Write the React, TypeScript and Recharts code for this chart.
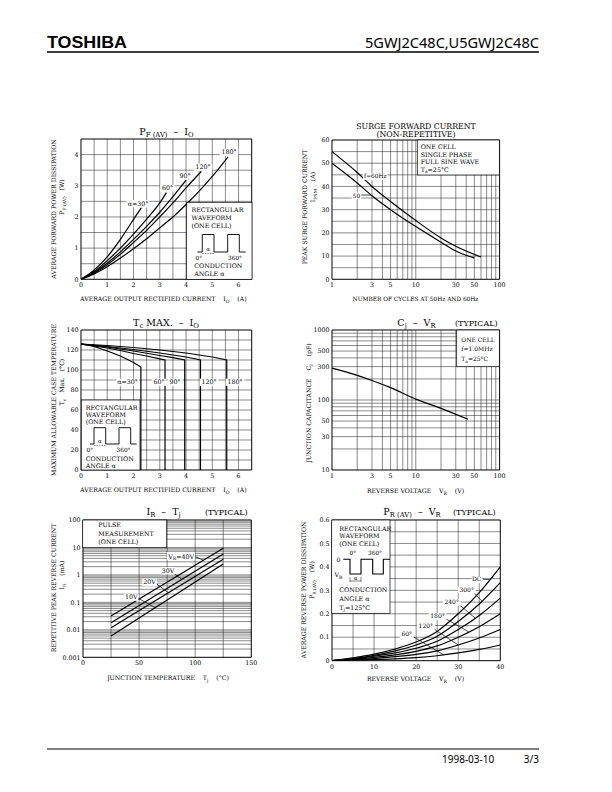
import React from 'react';
import { LineChart, Line, XAxis, YAxis, ReferenceLine } from 'recharts';

const SERIF = '"DejaVu Serif", serif';
const SANS = '"Noto Sans", "DejaVu Sans", sans-serif';

// ---------------- Chart 1: PF(AV) - IO ----------------
const pfTicksX = [0, 1, 2, 3, 4, 5, 6];
const pfTicksY = [0, 1, 2, 3, 4];
const pfGridX = [0.5, 1, 1.5, 2, 2.5, 3, 3.5, 4, 4.5, 5, 5.5, 6];
const pfGridY = [0.5, 1, 1.5, 2, 2.5, 3, 3.5, 4];
const pf30Io = [0, 0.5, 1, 1.5, 2, 2.3];
const pf30W = [0, 0.3, 0.72, 1.28, 1.92, 2.3];
const pf60Io = [0, 0.5, 1, 1.5, 2, 2.5, 3, 3.25];
const pf60W = [0, 0.25, 0.6, 1.0, 1.45, 1.93, 2.45, 2.78];
const pf90Io = [0, 0.5, 1, 1.5, 2, 2.5, 3, 3.5, 4];
const pf90W = [0, 0.22, 0.52, 0.88, 1.28, 1.7, 2.15, 2.65, 3.18];
const pf120Io = [0, 0.5, 1, 1.5, 2, 2.5, 3, 3.5, 4, 4.58];
const pf120W = [0, 0.2, 0.47, 0.8, 1.18, 1.57, 2.0, 2.45, 2.93, 3.46];
const pf180Io = [0, 0.5, 1, 1.5, 2, 2.5, 3, 3.5, 4, 4.5, 5, 5.6];
const pf180W = [0, 0.17, 0.4, 0.68, 0.98, 1.3, 1.65, 2.0, 2.4, 2.83, 3.3, 3.93];

// ---------------- Chart 2: Surge forward current ----------------
const surgeTicksX = [1, 3, 5, 10, 30, 50, 100];
const surgeTicksY = [0, 10, 20, 30, 40, 50, 60];
const logGridX = [2, 3, 4, 5, 6, 7, 8, 9, 10, 20, 30, 40, 50, 60, 70, 80, 90];
const surgeGridY = [5, 10, 15, 20, 25, 30, 35, 40, 45, 50, 55];
const cycles60 = [1, 2, 3, 5, 10, 20, 30, 60];
const surge60 = [55, 46, 40, 33.5, 25.3, 17.8, 14.2, 9.6];
const cycles50 = [1, 2, 3, 5, 10, 20, 30, 50];
const surge50 = [50, 41.5, 36, 30, 22.7, 16, 12.2, 9.2];

// ---------------- Chart 3: Tc max - IO ----------------
const tcTicksY = [0, 20, 40, 60, 80, 100, 120, 140];
const tcGridY = [10, 20, 30, 40, 50, 60, 70, 80, 90, 100, 110, 120, 130];
const tc30Io = [0, 0.5, 1, 1.5, 2, 2.28, 2.28];
const tc30T = [126, 123.5, 119, 114, 107.5, 103, 0];
const tc60Io = [0, 0.5, 1, 1.5, 2, 2.5, 3, 3.2, 3.2];
const tc60T = [126, 124, 122, 119.5, 116.5, 114, 111.2, 110, 0];
const tc90Io = [0, 1, 2, 3, 3.5, 3.95, 3.95];
const tc90T = [126, 123, 119, 114.5, 112.3, 110, 0];
const tc120Io = [0, 1, 2, 3, 4, 4.55, 4.55];
const tc120T = [126, 123.5, 120.5, 117, 113, 110, 0];
const tc180Io = [0, 1, 2, 3, 4, 5, 5.55, 5.55];
const tc180T = [126, 124.5, 122.5, 120, 117, 113, 110, 0];

// ---------------- Chart 4: Cj - VR ----------------
const cjTicksY = [10, 30, 50, 100, 300, 500, 1000];
const cjGridY = [20, 30, 40, 50, 60, 70, 80, 90, 100, 200, 300, 400, 500, 600, 700, 800, 900];
const capV = [1, 2, 3, 5, 10, 20, 42];
const capPF = [285, 225, 190, 150, 103, 76, 53];

// ---------------- Chart 5: IR - Tj ----------------
const irTicksX = [0, 50, 100, 150];
const irTicksY = [0.001, 0.01, 0.1, 1, 10, 100];
const irGridX = [25, 50, 75, 100, 125];
const irGridY = [
  0.002, 0.003, 0.004, 0.005, 0.006, 0.007, 0.008, 0.009, 0.01,
  0.02, 0.03, 0.04, 0.05, 0.06, 0.07, 0.08, 0.09, 0.1,
  0.2, 0.3, 0.4, 0.5, 0.6, 0.7, 0.8, 0.9, 1,
  2, 3, 4, 5, 6, 7, 8, 9, 10,
  20, 30, 40, 50, 60, 70, 80, 90,
];
const tjC = [25, 125];
const ir40 = [0.032, 9.3];
const ir30 = [0.018, 5.8];
const ir20 = [0.012, 3.7];
const ir10 = [0.006, 2.5];

// ---------------- Chart 6: PR(AV) - VR ----------------
const prTicksX = [0, 10, 20, 30, 40];
const prTicksY = [0, 0.1, 0.2, 0.3, 0.4, 0.5, 0.6];
const prGridX = [5, 10, 15, 20, 25, 30, 35];
const prGridY = [0.05, 0.1, 0.15, 0.2, 0.25, 0.3, 0.35, 0.4, 0.45, 0.5, 0.55];
const vrV = [0, 5, 10, 15, 20, 25, 30, 35, 40];
const prDC = [0, 0.012, 0.028, 0.05, 0.08, 0.125, 0.2, 0.29, 0.4];
const pr300 = [0, 0.01, 0.023, 0.042, 0.067, 0.104, 0.167, 0.242, 0.333];
const pr240 = [0, 0.008, 0.019, 0.033, 0.053, 0.083, 0.133, 0.193, 0.267];
const pr180 = [0, 0.006, 0.014, 0.025, 0.04, 0.063, 0.1, 0.145, 0.2];
const pr120 = [0, 0.004, 0.009, 0.017, 0.027, 0.042, 0.067, 0.097, 0.133];
const pr60 = [0, 0.002, 0.005, 0.008, 0.013, 0.021, 0.033, 0.048, 0.067];

const pts = (xs: number[], ys: number[]) => xs.map((x, i) => ({ x, y: ys[i] }));

type Box = { x: number; y: number; w: number; h: number };
type Seg = [[number, number], [number, number]];

const C1: Box = { x: 81.3, y: 139, w: 170.7, h: 140.3 };
const C2: Box = { x: 331.7, y: 140, w: 167.6, h: 139.3 };
const C3: Box = { x: 81.3, y: 330, w: 170.7, h: 140 };
const C4: Box = { x: 331.7, y: 330, w: 167.6, h: 140 };
const C5: Box = { x: 82.7, y: 520, w: 168.3, h: 137.3 };
const C6: Box = { x: 331.7, y: 520, w: 168.3, h: 140.7 };

const GRID = '#161616';
const tickStyle = { fontSize: 6.3, fill: '#000', fontFamily: SERIF };

function Plot(props: {
  box: Box;
  xd: [number, number];
  yd: [number, number];
  xlog?: boolean;
  ylog?: boolean;
  xt: number[];
  yt: number[];
  gx: number[];
  gy: number[];
  series: { data: { x: number; y: number }[]; type?: any }[];
  leaders?: Seg[];
}) {
  const { box, xd, yd, xlog, ylog, xt, yt, gx, gy, series, leaders = [] } = props;
  const L = 40, T = 10, R = 10, B = 20;
  return (
    <div style={{ position: 'absolute', left: box.x - L, top: box.y - T }}>
      <LineChart width={box.w + L + R} height={box.h + T + B} margin={{ top: T, right: R, bottom: 0, left: 0 }}>
        <XAxis
          type="number"
          dataKey="x"
          domain={xd}
          scale={xlog ? 'log' : 'linear'}
          ticks={xt}
          interval={0}
          allowDataOverflow
          height={B}
          axisLine={false}
          tickLine={false}
          tickSize={2}
          tickMargin={1.5}
          tick={tickStyle}
        />
        <YAxis
          type="number"
          dataKey="y"
          domain={yd}
          scale={ylog ? 'log' : 'linear'}
          ticks={yt}
          interval={0}
          allowDataOverflow
          width={L}
          axisLine={false}
          tickLine={false}
          tickSize={1}
          tickMargin={1.5}
          tick={tickStyle}
        />
        {gx.map((v) => (
          <ReferenceLine key={'gx' + v} x={v} stroke={GRID} strokeWidth={0.5} ifOverflow="visible" />
        ))}
        {gy.map((v) => (
          <ReferenceLine key={'gy' + v} y={v} stroke={GRID} strokeWidth={0.5} ifOverflow="visible" />
        ))}
        <ReferenceLine x={xd[0]} stroke="#000" strokeWidth={1} ifOverflow="visible" />
        <ReferenceLine x={xd[1]} stroke="#000" strokeWidth={1} ifOverflow="visible" />
        <ReferenceLine y={yd[0]} stroke="#000" strokeWidth={1} ifOverflow="visible" />
        <ReferenceLine y={yd[1]} stroke="#000" strokeWidth={1} ifOverflow="visible" />
        {leaders.map((s, i) => (
          <ReferenceLine
            key={'ld' + i}
            segment={[{ x: s[0][0], y: s[0][1] }, { x: s[1][0], y: s[1][1] }]}
            stroke="#000"
            strokeWidth={0.7}
            ifOverflow="visible"
          />
        ))}
        {series.map((s, i) => (
          <Line
            key={'s' + i}
            data={s.data}
            dataKey="y"
            type={s.type || 'monotone'}
            dot={false}
            activeDot={false}
            stroke="#000"
            strokeWidth={1.2}
            isAnimationActive={false}
          />
        ))}
      </LineChart>
    </div>
  );
}

type Part = [string, boolean];
function Rich({ x, y, parts, s = 6.2, a = 'start', rot = false, italic = false }: {
  x: number; y: number; parts: Part[]; s?: number; a?: 'start' | 'middle' | 'end'; rot?: boolean; italic?: boolean;
}) {
  return (
    <text
      x={x}
      y={y}
      fontSize={s}
      textAnchor={a}
      fontFamily={SERIF}
      fill="#000"
      style={{ whiteSpace: 'pre', fontStyle: italic ? 'italic' : 'normal' }}
      transform={rot ? `rotate(-90 ${x} ${y})` : undefined}
    >
      {parts.map(([t, sub], i) => {
        const prev = i > 0 && parts[i - 1][1];
        const dy = sub && !prev ? s * 0.25 : !sub && prev ? -s * 0.25 : 0;
        return (
          <tspan key={i} dy={dy} fontSize={sub ? s * 0.72 : s}>
            {t}
          </tspan>
        );
      })}
    </text>
  );
}

function Tx({ x, y, t, s = 6.3, a = 'start', bg = false }: {
  x: number; y: number; t: string; s?: number; a?: 'start' | 'middle' | 'end'; bg?: boolean;
}) {
  const w = t.length * s * 0.66 + 2;
  const rx = a === 'start' ? x - 1 : a === 'middle' ? x - w / 2 : x - w + 1;
  return (
    <g>
      {bg && <rect x={rx} y={y - s * 0.85} width={w} height={s * 1.15} fill="#fff" />}
      <text x={x} y={y} fontSize={s} textAnchor={a} fontFamily={SERIF} fill="#000" style={{ whiteSpace: 'pre' }}>
        {t}
      </text>
    </g>
  );
}

function Overlay() {
  return (
    <svg width={612} height={792} style={{ position: 'absolute', left: 0, top: 0, pointerEvents: 'none' }}>
      {/* Header / footer */}
      <text x={47} y={48} fontSize={16} fontWeight="bold" fontFamily='"Liberation Sans", Arial, sans-serif' textLength={80} lengthAdjust="spacingAndGlyphs">TOSHIBA</text>
      <text x={365} y={48} fontSize={14} fontFamily={SANS} textLength={174} lengthAdjust="spacingAndGlyphs">5GWJ2C48C,U5GWJ2C48C</text>
      <line x1={47} x2={539} y1={52} y2={52} stroke="#000" strokeWidth={1.3} />
      <line x1={47} x2={539} y1={749} y2={749} stroke="#000" strokeWidth={1} />
      <text x={442} y={763} fontSize={10} fontFamily={SANS}>1998-03-10</text>
      <text x={539} y={763} fontSize={10} fontFamily={SANS} textAnchor="end">3/3</text>

      {/* ---------- Chart 1 ---------- */}
      <Rich x={166.5} y={135} s={9.5} a="middle" parts={[['P', false], ['F (AV)', true], ['  –  I', false], ['O', true]]} />
      <Rich x={55.5} y={209} s={6.2} a="middle" rot parts={[['AVERAGE FORWARD POWER DISSIPATION', false]]} />
      <Rich x={64} y={197} s={6.2} a="middle" rot parts={[['P', false], ['F (AV)', true], ['   (W)', false]]} />
      <Rich x={80} y={301} s={6.2} parts={[['AVERAGE OUTPUT RECTIFIED CURRENT    I', false], ['O', true], ['    (A)', false]]} />
      <Tx x={138} y={205.5} t="α=30°" a="middle" bg />
      <Tx x={167.5} y={190} t="60°" a="middle" bg />
      <Tx x={185} y={178} t="90°" a="middle" bg />
      <Tx x={203} y={169} t="120°" a="middle" bg />
      <Tx x={229} y={154} t="180°" a="middle" bg />
      <rect x={186.7} y={202.3} width={65.3} height={77} fill="#fff" stroke="#000" strokeWidth={0.7} />
      <Tx x={191.5} y={211.5} t="RECTANGULAR" s={6.3} />
      <Tx x={191.5} y={219.5} t="WAVEFORM" s={6.3} />
      <Tx x={191.5} y={227.5} t="(ONE CELL)" s={6.3} />
      <path d="M197.3 252 H202.3 V234.5 H214 V252 H227.7 V234.5 H239.3 V252 H245.7" fill="none" stroke="#000" strokeWidth={0.9} />
      <line x1={202.3} x2={214} y1={253.5} y2={253.5} stroke="#000" strokeWidth={0.5} strokeDasharray="1.5 1" />
      <Tx x={208.2} y={250.5} t="α" s={5.5} a="middle" />
      <Tx x={195.5} y={259.5} t="0°" s={5.8} />
      <Tx x={228} y={259.5} t="360°" s={5.8} />
      <Tx x={194.3} y={267.5} t="CONDUCTION" s={6.3} />
      <Tx x={194.3} y={275.5} t="ANGLE α" s={6.3} />

      {/* ---------- Chart 2 ---------- */}
      <Tx x={416} y={129} t="SURGE FORWARD CURRENT" s={7.8} a="middle" />
      <Tx x={416} y={137} t="(NON-REPETITIVE)" s={7.8} a="middle" />
      <Rich x={306.5} y={207} s={6.2} a="middle" rot parts={[['PEAK SURGE FORWARD CURRENT', false]]} />
      <Rich x={315} y={187} s={6.2} a="middle" rot parts={[['I', false], ['FSM', true], ['    (A)', false]]} />
      <Tx x={415.5} y={301} t="NUMBER OF CYCLES AT 50Hz AND 60Hz" s={5.8} a="middle" />
      <Tx x={364} y={178.3} t="f=60Hz" s={5.8} bg />
      <Tx x={352.7} y={197.5} t="50" s={5.8} bg />
      <rect x={417.3} y={140} width={82} height={35} fill="#fff" stroke="#000" strokeWidth={0.7} />
      <Tx x={420.7} y={149} t="ONE CELL" s={6.3} />
      <Tx x={420.7} y={156.5} t="SINGLE PHASE" s={6.3} />
      <Tx x={420.7} y={164} t="FULL SINE WAVE" s={6.3} />
      <Rich x={420.7} y={171.5} s={6.3} parts={[['T', false], ['a', true], ['=25°C', false]]} />

      {/* ---------- Chart 3 ---------- */}
      <Rich x={166} y={326} s={9.5} a="middle" parts={[['T', false], ['c', true], [' MAX.  –  I', false], ['O', true]]} />
      <Rich x={55.5} y={400} s={6.2} a="middle" rot parts={[['MAXIMUM ALLOWABLE CASE TEMPERATURE', false]]} />
      <Rich x={64} y={382} s={6.2} a="middle" rot parts={[['T', false], ['c', true], ['   Max.   (°C)', false]]} />
      <Rich x={80} y={492} s={6.2} parts={[['AVERAGE OUTPUT RECTIFIED CURRENT    I', false], ['O', true], ['    (A)', false]]} />
      <Tx x={127.5} y={384} t="α=30°" a="middle" bg />
      <Tx x={159} y={384} t="60°" a="middle" bg />
      <Tx x={175} y={384} t="90°" a="middle" bg />
      <Tx x={209} y={384} t="120°" a="middle" bg />
      <Tx x={235} y={384} t="180°" a="middle" bg />
      <rect x={81.3} y={400} width={58.7} height={70} fill="#fff" stroke="#000" strokeWidth={0.7} />
      <Tx x={85.7} y={409.6} t="RECTANGULAR" s={6.3} />
      <Tx x={85.7} y={416.6} t="WAVEFORM" s={6.3} />
      <Tx x={85.7} y={423.6} t="(ONE CELL)" s={6.3} />
      <path d="M90 444 H94 V427.7 H105.7 V444 H119 V427.7 H130.7 V444 H136.7" fill="none" stroke="#000" strokeWidth={0.9} />
      <line x1={94} x2={105.7} y1={445.3} y2={445.3} stroke="#000" strokeWidth={0.5} strokeDasharray="1.5 1" />
      <Tx x={99.8} y={442.8} t="α" s={5.5} a="middle" />
      <Tx x={86.5} y={452} t="0°" s={5.8} />
      <Tx x={116.5} y={452} t="360°" s={5.8} />
      <Tx x={85.7} y={461.3} t="CONDUCTION" s={6.3} />
      <Tx x={85.7} y={468.3} t="ANGLE α" s={6.3} />

      {/* ---------- Chart 4 ---------- */}
      <Rich x={416.5} y={326} s={9.5} a="middle" parts={[['C', false], ['j', true], ['  –  V', false], ['R', true]]} />
      <Tx x={455} y={326} t="(TYPICAL)" s={8} />
      <Rich x={310.5} y={403} s={6.2} a="middle" rot parts={[['JUNCTION CAPACITANCE    C', false], ['j', true], ['    (pF)', false]]} />
      <Rich x={415.5} y={493} s={6.2} a="middle" parts={[['REVERSE VOLTAGE    V', false], ['R', true], ['    (V)', false]]} />
      <rect x={456.7} y={330} width={42.6} height={36.7} fill="#fff" stroke="#000" strokeWidth={0.7} />
      <Tx x={461.3} y={342} t="ONE CELL" s={6} />
      <Tx x={461.3} y={351} t="f=1.0MHz" s={6} />
      <Rich x={461.3} y={361} s={6} parts={[['T', false], ['a', true], ['=25°C', false]]} />

      {/* ---------- Chart 5 ---------- */}
      <Rich x={163.5} y={515} s={9.5} a="middle" parts={[['I', false], ['R', true], ['  –  T', false], ['j', true]]} />
      <Tx x={205} y={515} t="(TYPICAL)" s={8} />
      <Rich x={55.5} y={588} s={6.2} a="middle" rot parts={[['REPETITIVE PEAK REVERSE CURRENT', false]]} />
      <Rich x={64} y={575} s={6.2} a="middle" rot parts={[['I', false], ['R', true], ['    (mA)', false]]} />
      <Rich x={168} y={680} s={6.2} a="middle" parts={[['JUNCTION TEMPERATURE    T', false], ['j', true], ['    (°C)', false]]} />
      <rect x={82.7} y={520} width={84} height={27.7} fill="#fff" stroke="#000" strokeWidth={0.7} />
      <Tx x={98.3} y={526.8} t="PULSE" s={6.3} />
      <Tx x={98.3} y={535.5} t="MEASUREMENT" s={6.3} />
      <Tx x={98.3} y={544.2} t="(ONE CELL)" s={6.3} />
      <rect x={167} y={552} width={28} height={8} fill="#fff" />
      <Rich x={168.3} y={558.5} s={6.3} parts={[['V', false], ['R', true], ['=40V', false]]} />
      <Tx x={161.7} y={572.5} t="30V" s={6.3} bg />
      <Tx x={143.3} y={584} t="20V" s={6.3} bg />
      <Tx x={125} y={599} t="10V" s={6.3} bg />

      {/* ---------- Chart 6 ---------- */}
      <Rich x={412} y={515} s={9.5} a="middle" parts={[['P', false], ['R (AV)', true], ['  –  V', false], ['R', true]]} />
      <Tx x={453} y={515} t="(TYPICAL)" s={8} />
      <Rich x={305.5} y={590} s={6.2} a="middle" rot parts={[['AVERAGE REVERSE POWER DISSIPATION', false]]} />
      <Rich x={314} y={580} s={6.2} a="middle" rot parts={[['P', false], ['R (AV)', true], ['    (W)', false]]} />
      <Rich x={415.5} y={681} s={6.2} a="middle" parts={[['REVERSE VOLTAGE    V', false], ['R', true], ['    (V)', false]]} />
      <Tx x={476.7} y={581.3} t="DC" s={6} a="middle" bg />
      <Tx x={466.7} y={591.5} t="300°" s={6} a="middle" bg />
      <Tx x={451.7} y={604} t="240°" s={6} a="middle" bg />
      <Tx x={437.5} y={618.3} t="180°" s={6} a="middle" bg />
      <Tx x={425.8} y={628.3} t="120°" s={6} a="middle" bg />
      <Tx x={406.7} y={636.3} t="60°" s={6} a="middle" bg />
      <rect x={331.7} y={520} width={58.3} height={93.3} fill="#fff" stroke="#000" strokeWidth={0.7} />
      <Tx x={339.3} y={530.5} t="RECTANGULAR" s={6.3} />
      <Tx x={339.3} y={538} t="WAVEFORM" s={6.3} />
      <Tx x={339.3} y={545.5} t="(ONE CELL)" s={6.3} />
      <path d="M343.3 559.3 H350 V574 H361 V559.3 H372.7 V574 H383.3 V559.3 H390" fill="none" stroke="#000" strokeWidth={1.1} />
      <Tx x={336.5} y={561.5} t="0" s={6} />
      <Tx x={349.5} y={555} t="0°" s={5.8} />
      <Tx x={368} y={555} t="360°" s={5.8} />
      <Rich x={334.5} y={577} s={6.2} parts={[['V', false], ['R', true]]} />
      <path d="M350 577 V582 M361 577 V582 M350 581 H361" fill="none" stroke="#000" strokeWidth={0.5} />
      <Tx x={355.5} y={580} t="α" s={5.5} a="middle" />
      <Tx x={339.3} y={592} t="CONDUCTION" s={6.3} />
      <Tx x={339.3} y={601} t="ANGLE α" s={6.3} />
      <Rich x={339.3} y={609.5} s={6.3} parts={[['T', false], ['j', true], ['=125°C', false]]} />
    </svg>
  );
}

export default function App() {
  return (
    <div style={{ position: 'absolute', left: 0, top: 0, width: 612, height: 792, background: '#fff', overflow: 'hidden' }}>
      <Plot
        box={C1}
        xd={[0, 6.5]}
        yd={[0, 4.5]}
        xt={pfTicksX}
        yt={pfTicksY}
        gx={pfGridX}
        gy={pfGridY}
        series={[
          { data: pts(pf30Io, pf30W) },
          { data: pts(pf60Io, pf60W) },
          { data: pts(pf90Io, pf90W) },
          { data: pts(pf120Io, pf120W) },
          { data: pts(pf180Io, pf180W) },
        ]}
      />
      <Plot
        box={C2}
        xd={[1, 100]}
        yd={[0, 60]}
        xlog
        xt={surgeTicksX}
        yt={surgeTicksY}
        gx={logGridX}
        gy={surgeGridY}
        series={[{ data: pts(cycles60, surge60) }, { data: pts(cycles50, surge50) }]}
        leaders={[[[2.1, 36.3], [2.95, 36.3]]]}
      />
      <Plot
        box={C3}
        xd={[0, 6.5]}
        yd={[0, 140]}
        xt={pfTicksX}
        yt={tcTicksY}
        gx={pfGridX}
        gy={tcGridY}
        series={[
          { data: pts(tc30Io, tc30T), type: 'linear' },
          { data: pts(tc60Io, tc60T), type: 'linear' },
          { data: pts(tc90Io, tc90T), type: 'linear' },
          { data: pts(tc120Io, tc120T), type: 'linear' },
          { data: pts(tc180Io, tc180T), type: 'linear' },
        ]}
      />
      <Plot
        box={C4}
        xd={[1, 100]}
        yd={[10, 1000]}
        xlog
        ylog
        xt={surgeTicksX}
        yt={cjTicksY}
        gx={logGridX}
        gy={cjGridY}
        series={[{ data: pts(capV, capPF) }]}
      />
      <Plot
        box={C5}
        xd={[0, 150]}
        yd={[0.001, 100]}
        ylog
        xt={irTicksX}
        yt={irTicksY}
        gx={irGridX}
        gy={irGridY}
        series={[
          { data: pts(tjC, ir40), type: 'linear' },
          { data: pts(tjC, ir30), type: 'linear' },
          { data: pts(tjC, ir20), type: 'linear' },
          { data: pts(tjC, ir10), type: 'linear' },
        ]}
        leaders={[
          [[100, 4.6], [107.4, 3.43]],
          [[77.7, 1.41], [88.1, 0.69]],
          [[64.3, 0.515], [76.2, 0.225]],
          [[47.9, 0.151], [64.3, 0.064]],
        ]}
      />
      <Plot
        box={C6}
        xd={[0, 40]}
        yd={[0, 0.6]}
        xt={prTicksX}
        yt={prTicksY}
        gx={prGridX}
        gy={prGridY}
        series={[
          { data: pts(vrV, prDC) },
          { data: pts(vrV, pr300) },
          { data: pts(vrV, pr240) },
          { data: pts(vrV, pr180) },
          { data: pts(vrV, pr120) },
          { data: pts(vrV, pr60) },
        ]}
        leaders={[
          [[35.9, 0.348], [37.5, 0.345]],
          [[33.3, 0.298], [35.6, 0.255]],
          [[29.7, 0.247], [34, 0.182]],
          [[26.1, 0.188], [32.5, 0.123]],
          [[23.4, 0.145], [30, 0.067]],
          [[18.6, 0.11], [26.5, 0.025]],
        ]}
      />
      <Overlay />
    </div>
  );
}
